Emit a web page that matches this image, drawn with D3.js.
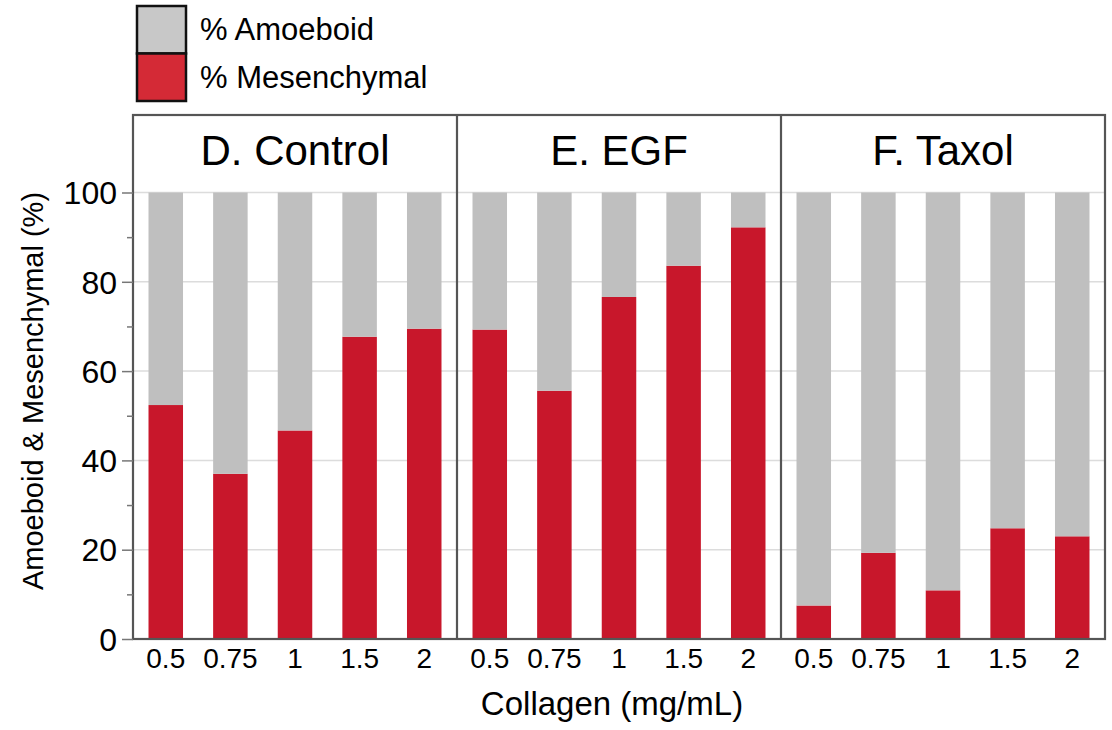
<!DOCTYPE html>
<html lang="en">
<head>
    <meta charset="UTF-8">
    <title>Amoeboid vs Mesenchymal</title>
    <script src="https://d3js.org/d3.v7.min.js"></script>
    <style>
    body { margin: 0; background: #fff; }
    text { font-family: "Liberation Sans", Arial, sans-serif; fill: #000; }
    </style>
</head>
<body>
<div id="chart"></div>
<script>
// data
var panels = ["D. Control", "E. EGF", "F. Taxol"];
var collagen = ["0.5", "0.75", "1", "1.5", "2"];
var mesControl = [52.4, 37.0, 46.7, 67.7, 69.5];
var amoControl = [47.6, 63.0, 53.3, 32.3, 30.5];
var mesEGF = [69.3, 55.6, 76.6, 83.6, 92.2];
var amoEGF = [30.7, 44.4, 23.4, 16.4, 7.8];
var mesTaxol = [7.5, 19.3, 10.9, 24.8, 23.0];
var amoTaxol = [92.5, 80.7, 89.1, 75.2, 77.0];
var yTicks = [0, 20, 40, 60, 80, 100];
var seriesNames = ["% Amoeboid", "% Mesenchymal"];

var mesAll = [mesControl, mesEGF, mesTaxol];
var amoAll = [amoControl, amoEGF, amoTaxol];

var rows = [];
panels.forEach(function(p, i) {
    collagen.forEach(function(c, j) {
        rows.push({ panel: p, conc: c, mes: mesAll[i][j], amo: amoAll[i][j] });
    });
});

var W = 1112, H = 730;
// "top" is taken by window.top, so use other names
var plotTop = 115, plotBottom = 639, plotLeft = 133, plotRight = 1105;

var svg = d3.select("#chart").append("svg")
    .attr("width", W)
    .attr("height", H);

var xPanel = d3.scaleBand().domain(panels).range([plotLeft, plotRight]);
var xBar = d3.scaleBand().domain(collagen)
    .range([0, xPanel.bandwidth()])
    .paddingInner(0.466)
    .paddingOuter(0.24);
var y = d3.scaleLinear().domain([0, 100]).range([plotBottom, 192.5]);

var color = d3.scaleOrdinal()
    .domain(["amo", "mes"])
    .range(["#bfbfbf", "#c8172b"]);

// gridlines
svg.append("g")
    .selectAll("line")
    .data(yTicks)
    .enter()
    .append("line")
    .attr("x1", plotLeft)
    .attr("x2", plotRight)
    .attr("y1", d => y(d))
    .attr("y2", d => y(d))
    .attr("stroke", "#dcdcdc")
    .attr("stroke-width", 1.5);

// stacked bars
var stack = d3.stack().keys(["mes", "amo"]);
var layers = stack(rows);

svg.append("g")
    .selectAll("g")
    .data(layers)
    .enter()
    .append("g")
    .attr("fill", d => color(d.key))
    .selectAll("rect")
    .data(d => d)
    .enter()
    .append("rect")
    .attr("x", d => xPanel(d.data.panel) + xBar(d.data.conc))
    .attr("width", xBar.bandwidth())
    .attr("y", d => y(d[1]))
    .attr("height", d => y(d[0]) - y(d[1]));

// panel frames
var frame = svg.append("g")
    .attr("stroke", "#555")
    .attr("stroke-width", 2.2)
    .attr("fill", "none");

frame.append("rect")
    .attr("x", plotLeft)
    .attr("y", plotTop)
    .attr("width", plotRight - plotLeft)
    .attr("height", plotBottom - plotTop);

frame.selectAll("line.div")
    .data(panels.slice(1))
    .enter()
    .append("line")
    .attr("x1", d => xPanel(d))
    .attr("x2", d => xPanel(d))
    .attr("y1", plotTop)
    .attr("y2", plotBottom);

// panel titles
svg.append("g")
    .selectAll("text")
    .data(panels)
    .enter()
    .append("text")
    .attr("x", d => xPanel(d) + xPanel.bandwidth() / 2)
    .attr("y", 165)
    .attr("text-anchor", "middle")
    .style("font-size", "42px")
    .text(d => d);

// y axis
var yAxis = d3.axisLeft(y)
    .tickValues(d3.range(0, 101, 10))
    .tickSize(0)
    .tickFormat(d => d % 20 === 0 ? d : "");

var yg = svg.append("g")
    .attr("transform", "translate(" + plotLeft + ",0)")
    .call(yAxis);
yg.select(".domain").remove();
yg.selectAll(".tick line")
    .attr("stroke", "#777")
    .attr("stroke-width", 1.5)
    .attr("x2", d => d % 20 === 0 ? -11 : -6);
yg.selectAll(".tick text")
    .attr("x", -16)
    .attr("dy", "0.35em")
    .style("font-family", "'Liberation Sans', Arial, sans-serif")
    .style("font-size", "32px")
    .attr("fill", "#000");

svg.append("text")
    .attr("transform", "translate(43,391) rotate(-90)")
    .attr("text-anchor", "middle")
    .style("font-size", "29px")
    .text("Amoeboid & Mesenchymal (%)");

// x axis labels
panels.forEach(function(p) {
    var xg = svg.append("g")
        .attr("transform", "translate(" + xPanel(p) + "," + plotBottom + ")")
        .call(d3.axisBottom(xBar).tickSize(0).tickPadding(0));
    xg.select(".domain").remove();
    xg.selectAll(".tick text")
        .attr("y", 29)
        .attr("dy", 0)
        .style("font-family", "'Liberation Sans', Arial, sans-serif")
        .style("font-size", "28px")
        .attr("fill", "#000");
});

svg.append("text")
    .attr("x", 612)
    .attr("y", 715)
    .attr("text-anchor", "middle")
    .style("font-size", "33px")
    .text("Collagen (mg/mL)");

// legend
var legendColor = d3.scaleOrdinal()
    .domain(seriesNames)
    .range(["#c8c8c8", "#d42a36"]);

var legend = svg.append("g")
    .selectAll("g")
    .data(seriesNames)
    .enter()
    .append("g")
    .attr("transform", (d, i) => "translate(137," + (6 + i * 47.5) + ")");

legend.append("rect")
    .attr("width", 49)
    .attr("height", 47.5)
    .attr("fill", d => legendColor(d))
    .attr("stroke", "#111")
    .attr("stroke-width", 2.5);

legend.append("text")
    .attr("x", 63)
    .attr("y", 34)
    .style("font-size", "31px")
    .text(d => d);
</script>
</body>
</html>
